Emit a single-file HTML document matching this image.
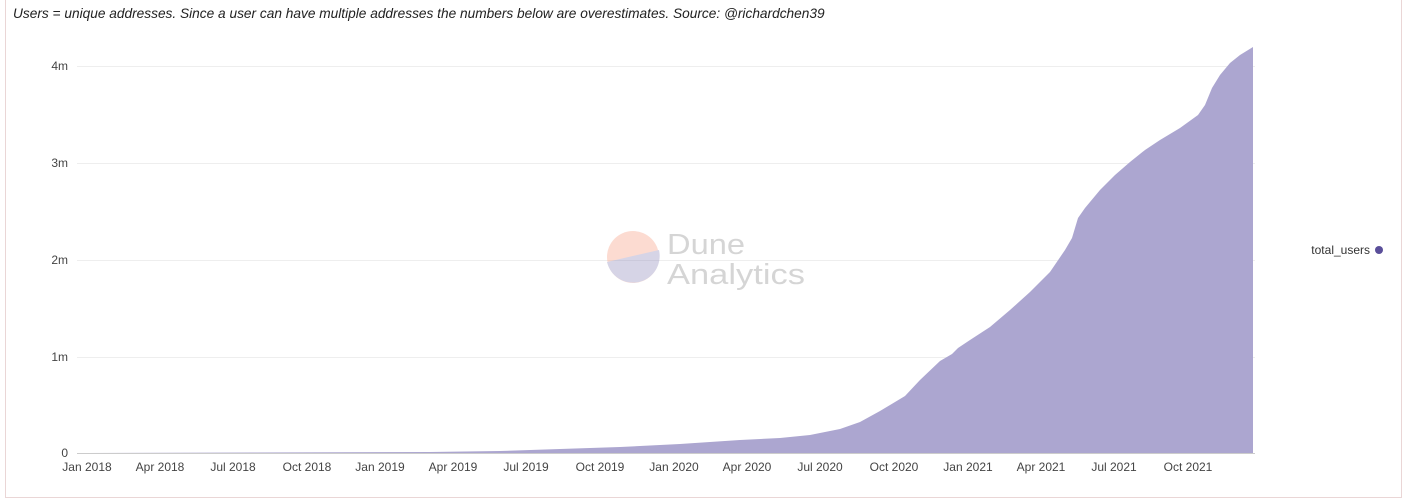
<!DOCTYPE html>
<html><head><meta charset="utf-8"><style>
html,body{margin:0;padding:0;background:#fff;}
body{width:1411px;height:481px;overflow:hidden;position:relative;font-family:"Liberation Sans",sans-serif;}
.frame{position:absolute;left:5px;top:-2px;width:1397px;height:500px;border:1px solid #ead6d6;box-sizing:border-box;}
.title{position:absolute;left:13px;top:6px;font-size:13.7px;font-style:italic;color:#222;}
</style></head><body>
<div class="frame"></div>
<div class="title">Users = unique addresses. Since a user can have multiple addresses the numbers below are overestimates. Source: @richardchen39</div>
<svg width="1411" height="481" style="position:absolute;left:0;top:0" font-family="Liberation Sans, sans-serif">
<g stroke="#eeeeee" stroke-width="1">
<line x1="77" x2="1255" y1="66.5" y2="66.5"/>
<line x1="77" x2="1255" y1="163.5" y2="163.5"/>
<line x1="77" x2="1255" y1="260.5" y2="260.5"/>
<line x1="77" x2="1255" y1="357.5" y2="357.5"/>
</g>
<g font-size="12" fill="#444" text-anchor="end">
<text x="68" y="70">4m</text><text x="68" y="167">3m</text><text x="68" y="264">2m</text><text x="68" y="361">1m</text><text x="68" y="457">0</text>
</g>
<g opacity="0.35">
<circle cx="633" cy="257" r="26" fill="#f79a7e"/>
<path d="M607,262 L659,250 A26,26 0 0 1 607,262 Z" fill="#8b86b8"/>
<text x="667" y="254" font-size="29" fill="#888" textLength="78" lengthAdjust="spacingAndGlyphs">Dune</text>
<text x="667" y="284" font-size="29" fill="#888" textLength="138" lengthAdjust="spacingAndGlyphs">Analytics</text>
</g>
<path fill="#aca6d0" d="M87,453 L430,452 L500,451 L560,449 L620,447 L680,444 L740,440 L780,438 L810,435 L840,429 L860,422 L880,411 L905,396 L920,380 L940,361 L952,354 L958,348 L970,340 L990,327 L1010,310 L1030,292 L1050,272 L1065,250 L1072,238 L1078,218 L1085,208 L1100,190 L1115,175 L1130,162 L1145,150 L1160,140 L1180,128 L1198,115 L1205,105 L1212,88 L1220,75 L1230,63 L1240,55 L1253,47 L1253,453 Z"/>
<line x1="77" x2="1255" y1="453.5" y2="453.5" stroke="#ccc"/>
<g font-size="12" fill="#444" text-anchor="middle">
<text x="87" y="471">Jan 2018</text><text x="160" y="471">Apr 2018</text><text x="233" y="471">Jul 2018</text><text x="307" y="471">Oct 2018</text>
<text x="380" y="471">Jan 2019</text><text x="453" y="471">Apr 2019</text><text x="526" y="471">Jul 2019</text><text x="600" y="471">Oct 2019</text>
<text x="674" y="471">Jan 2020</text><text x="747" y="471">Apr 2020</text><text x="820" y="471">Jul 2020</text><text x="894" y="471">Oct 2020</text>
<text x="968" y="471">Jan 2021</text><text x="1041" y="471">Apr 2021</text><text x="1114" y="471">Jul 2021</text><text x="1188" y="471">Oct 2021</text>
</g>
<text x="1370" y="254" font-size="12" fill="#333" text-anchor="end">total_users</text>
<circle cx="1379" cy="250" r="4" fill="#5a4f9a"/>
</svg>
</body></html>
